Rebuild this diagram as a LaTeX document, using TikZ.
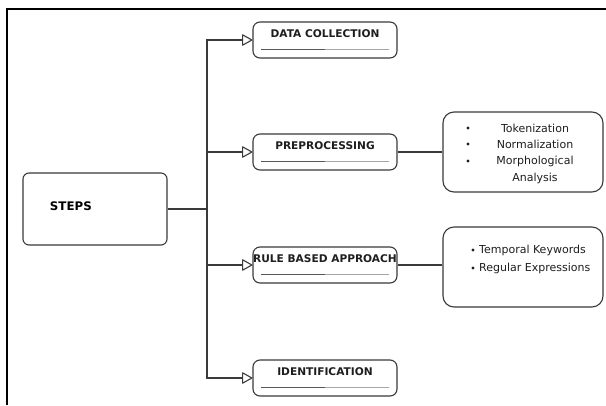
\documentclass[tikz,border=0pt]{standalone}
\usepackage{fontspec}
\setmainfont{DejaVu Sans}
\usetikzlibrary{arrows.meta,calc}
\definecolor{edge}{HTML}{3A3A3A}
\definecolor{txt}{HTML}{1E1E1E}
\begin{document}
\begin{tikzpicture}[x=1pt,y=-1pt,
  conn/.style={draw=edge,line width=1.1pt},
  tip/.style={-{Triangle[open,length=11pt,width=12pt,round,line width=1.1pt]}},
  stepbox/.style={draw=edge,line width=1.1pt,rounded corners=6pt,minimum width=144pt,minimum height=72pt,inner sep=0pt,text width=144pt,align=left,fill=white},
  headbox/.style={draw=edge,line width=1.1pt,rounded corners=7pt,minimum width=144pt,minimum height=36pt,inner sep=0pt,font=\fontsize{10.6}{12}\selectfont\bfseries,text=txt,fill=white},
  listbox/.style={draw=edge,line width=1.1pt,rounded corners=11pt,minimum width=160pt,minimum height=80pt,inner sep=0pt,fill=white},
  listtext/.style={inner sep=0pt,font=\fontsize{11}{13}\selectfont,text=txt},
  dot/.style={circle,fill=txt,inner sep=0pt,minimum size=3.4pt},
  bar/.style={line width=1.6pt,draw=black!65},
  lbar/.style={line width=0.9pt,draw=black!35}
  ]
\useasboundingbox (0,0) rectangle (606,405);
\fill[white] (0,0) rectangle (606,405);
\draw[line width=1.3pt] (7,405) -- (7,9) -- (606,9);

\node[stepbox] (steps) at (95,209) {\hspace*{27pt}\raisebox{5pt}{\fontsize{11.8}{13}\selectfont\bfseries STEPS}};

\node[headbox] (dc) at (325,40) {\raisebox{3pt}[0pt][0pt]{DATA COLLECTION}};
\node[headbox] (pp) at (325,152) {\raisebox{3pt}[0pt][0pt]{PREPROCESSING}};
\node[headbox] (rb) at (325,265) {\raisebox{3pt}[0pt][0pt]{RULE BASED APPROACH}};
\node[headbox] (id) at (325,378) {\raisebox{3pt}[0pt][0pt]{IDENTIFICATION}};

\foreach \b in {dc,pp,rb,id}{
  \draw[lbar] ($(\b.south)+(0,-9)$) -- ($(\b.south east)+(-9,-9)$);
  \draw[bar] ($(\b.south west)+(9,-9)$) -- ($(\b.south)+(0,-9)$);
}

\coordinate (tr) at (207,209);
\draw[conn] (steps.east) -- (tr);
\draw[conn,tip] (tr) |- (dc.west);
\draw[conn,tip] (tr) |- (pp.west);
\draw[conn,tip] (tr) |- (rb.west);
\draw[conn,tip] (tr) |- (id.west);

\node[listbox] (l1) at (523,152) {};
\node[listbox] (l2) at (523,267) {};
\draw[conn] (pp.east) -- (pp.east -| l1.west);
\draw[conn] (rb.east) -- (rb.east -| l2.west);

\node[dot] (b1) at (468,128) {};
\node[dot] (b2) at (468,144) {};
\node[dot] (b3) at (468,161) {};
\node[listtext] (t1) at (535,128) {Tokenization};
\node[listtext] (t2) at (535,144) {Normalization};
\node[listtext] (t3) at (535,161) {Morphological};
\node[listtext] (t4) at (535,178) {Analysis};

\node[dot] (d1) at (473,250) {};
\node[dot] (d2) at (473,268) {};
\node[listtext,anchor=west] (r1) at (479,250) {Temporal Keywords};
\node[listtext,anchor=west] (r2) at (479,268) {Regular Expressions};
\end{tikzpicture}
\end{document}
